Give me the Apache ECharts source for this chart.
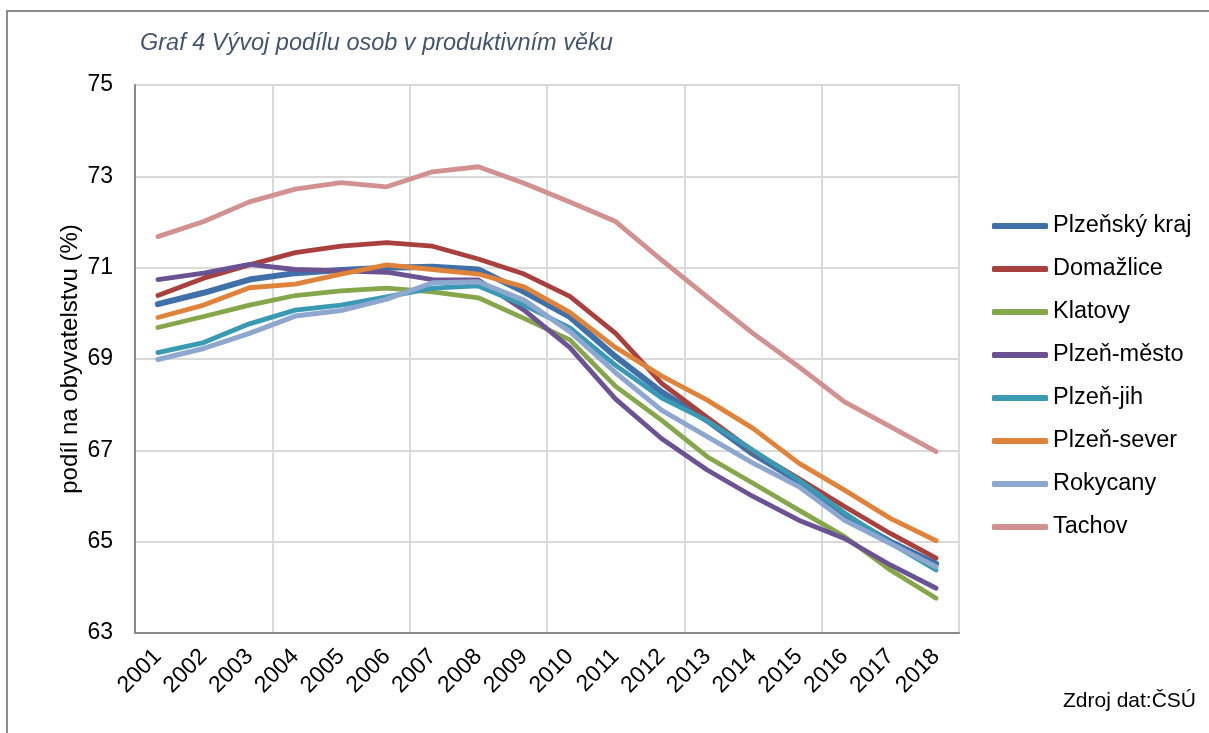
<!DOCTYPE html>
<html>
<head>
<meta charset="utf-8">
<script src="https://cdn.jsdelivr.net/npm/echarts@6/dist/echarts.min.js"></script>
<style>
html,body{margin:0;padding:0;background:#fff;}
#chart{width:1209px;height:733px;}
</style>
</head>
<body>
<div id="chart"></div>
<script>
var years = ['2001','2002','2003','2004','2005','2006','2007','2008','2009','2010','2011','2012','2013','2014','2015','2016','2017','2018'];
var seriesNames = ['Plzeňský kraj','Domažlice','Klatovy','Plzeň-město','Plzeň-jih','Plzeň-sever','Rokycany','Tachov'];

var plzenskyKraj = [70.20,70.45,70.74,70.88,70.95,71.00,71.02,70.96,70.47,69.92,69.05,68.28,67.65,66.92,66.32,65.57,65.00,64.52];
var domazlice    = [70.39,70.77,71.06,71.33,71.47,71.55,71.47,71.19,70.86,70.37,69.56,68.47,67.72,66.98,66.38,65.77,65.18,64.64];
var klatovy      = [69.69,69.93,70.18,70.39,70.49,70.55,70.47,70.34,69.89,69.42,68.40,67.66,66.86,66.28,65.69,65.11,64.38,63.76];
var plzenMesto   = [70.74,70.88,71.07,70.96,70.93,70.90,70.74,70.73,70.07,69.25,68.12,67.26,66.57,65.99,65.47,65.07,64.49,63.98];
var plzenJih     = [69.14,69.36,69.77,70.07,70.18,70.36,70.55,70.60,70.18,69.68,68.86,68.15,67.65,67.00,66.35,65.63,64.97,64.38];
var plzenSever   = [69.91,70.18,70.56,70.64,70.86,71.06,70.96,70.86,70.58,70.02,69.25,68.63,68.10,67.48,66.72,66.13,65.51,65.02];
var rokycany     = [68.99,69.23,69.56,69.94,70.06,70.31,70.67,70.69,70.29,69.60,68.70,67.88,67.30,66.72,66.21,65.47,64.96,64.45];
var tachov       = [71.68,72.01,72.44,72.72,72.86,72.77,73.10,73.21,72.85,72.44,72.01,71.17,70.36,69.56,68.83,68.06,67.52,66.97];

var yTicks = [63,65,67,69,71,73,75];

var allData = [plzenskyKraj, domazlice, klatovy, plzenMesto, plzenJih, plzenSever, rokycany, tachov];
var colors = ['#4070A8','#A8413E','#86A64B','#6B5293','#3A99B3','#E0833A','#8EA7CF','#D09190'];
var widths = [6,4.8,4.8,4.8,4.8,4.8,5,4.8];

var font = "'Liberation Sans', Arial, sans-serif";
var chart = echarts.init(document.getElementById('chart'));

var series = [];
for (var i = 0; i < seriesNames.length; i++) {
	series.push({
		name: seriesNames[i],
		type: 'line',
		data: allData[i],
		symbol: 'none',
		color: colors[i],
		lineStyle: { width: widths[i], color: colors[i], cap: 'round', join: 'round' },
		emphasis: { disabled: true }
	});
}

var option = {
	animation: false,
	backgroundColor: '#fff',
	title: {
		text: 'Graf 4 Vývoj podílu osob v produktivním věku',
		left: 135,
		top: 27,
		textStyle: {
			fontFamily: font,
			fontSize: 23.5,
			fontStyle: 'italic',
			fontWeight: 'normal',
			color: '#44546A'
		}
	},
	graphic: [{
		type: 'rect',
		shape: { x: 7, y: 11, width: 1400, height: 900 },
		style: { fill: null, stroke: '#8C8C8C', lineWidth: 2 },
		silent: true
	}, {
		type: 'text',
		right: 13,
		top: 691,
		style: { text: 'Zdroj dat:ČSÚ', font: '21px ' + font, fill: '#000' }
	}],
	legend: {
		orient: 'vertical',
		left: 987,
		top: 209,
		itemWidth: 56,
		itemHeight: 6,
		itemGap: 19,
		icon: 'roundRect',
		textStyle: { fontFamily: font, fontSize: 23.5, color: '#000', lineHeight: 24 },
		data: seriesNames
	},
	grid: { left: 135, right: 250, top: 85, bottom: 100, show: true, borderColor: '#D9D9D9', borderWidth: 2 },
	xAxis: {
		type: 'category',
		data: years,
		boundaryGap: true,
		axisLine: { lineStyle: { color: '#898989', width: 2 } },
		axisTick: { show: false },
		axisLabel: { interval: 0, rotate: 45, fontFamily: font, fontSize: 23, color: '#000', margin: 20 },
		splitLine: {
			show: true,
			interval: function (index) { return index % 3 === 0; },
			lineStyle: { color: '#D9D9D9', width: 2 }
		}
	},
	yAxis: {
		type: 'value',
		min: yTicks[0],
		max: yTicks[yTicks.length - 1],
		interval: 2,
		name: 'podíl na obyvatelstvu (%)',
		nameLocation: 'middle',
		nameGap: 53,
		nameMoveOverlap: false,
		nameTextStyle: { fontFamily: font, fontSize: 24, color: '#000' },
		axisLine: { show: true, lineStyle: { color: '#898989', width: 2 } },
		axisTick: { show: false },
		axisLabel: { fontFamily: font, fontSize: 23, color: '#000', margin: 22 },
		splitLine: { lineStyle: { color: '#D9D9D9', width: 2 } }
	},
	series: series
};
chart.setOption(option);
</script>
</body>
</html>
